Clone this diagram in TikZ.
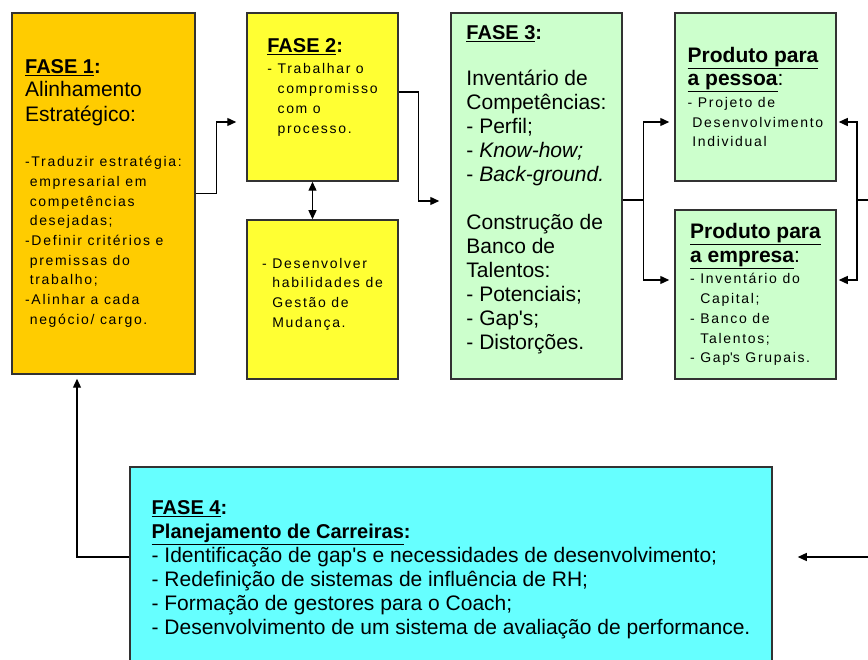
\documentclass[tikz,border=0pt]{standalone}
\usepackage{fontspec}
\setmainfont{Liberation Sans}
\newfontfamily\spacedfont[LetterSpace=12]{Liberation Sans}
\usepackage{xcolor}
\definecolor{faseorange}{RGB}{255,204,0}
\definecolor{faseyellow}{RGB}{255,255,51}
\definecolor{fasegreen}{RGB}{204,255,204}
\definecolor{fasecyan}{RGB}{102,255,255}
\definecolor{boxline}{RGB}{50,50,50}
\usepackage{tikz}
\usetikzlibrary{arrows.meta}
\tikzstyle{fase} = [rectangle, draw=boxline, line width=1.5pt,
  inner sep=0pt, align=left, font=\fontsize{21}{24}\selectfont]
\tikzstyle{smalltext} = [font=\spacedfont\fontsize{14}{19.7}\selectfont]
\newcommand{\fasehead}[1]{{\rmfamily\fontsize{20}{24}\selectfont\bfseries\underline{#1}:}}
\newcommand{\prodhead}[2]{{\rmfamily\fontsize{21}{24}\selectfont\bfseries\underline{#1}}\\[4pt]
  {\rmfamily\fontsize{21}{24}\selectfont{\bfseries\underline{#2}}:}}

\begin{document}
\begin{tikzpicture}[x=1pt, y=-1pt, line width=1.3pt,
    >={Triangle[length=9pt,width=8pt]}]
  \useasboundingbox (0,0) rectangle (868,660);
  \clip (0,0) rectangle (868,660);
  % fase 1
  \node[fase, smalltext, fill=faseorange, minimum width=183, minimum height=361]
    (f1) at (103.5,193.5) {\fasehead{FASE 1}\\[3pt]
    {\rmfamily\fontsize{21}{24}\selectfont Alinhamento}\\[5pt]
    {\rmfamily\fontsize{21}{24}\selectfont Estratégico:}\\[26pt]
    -Traduzir estratégia:\\ \phantom{-}empresarial em\\ \phantom{-}competências\\
    \phantom{-}desejadas;\\ -Definir critérios e\\ \phantom{-}premissas do\\
    \phantom{-}trabalho;\\ -Alinhar a cada\\ \phantom{-}negócio/ cargo.};
  % fase 2
  \node[fase, smalltext, fill=faseyellow, minimum width=151, minimum height=168]
    (f2a) at (322.5,97) {\fasehead{FASE 2}\\[2pt]
    - Trabalhar o\\ \phantom{- }compromisso\\ \phantom{- }com o\\
    \phantom{- }processo.\\[3pt]};
  \node[fase, smalltext, fill=faseyellow, minimum width=151, minimum height=159]
    (f2b) at (322.5,299.5) {- Desenvolver\\ \phantom{- }habilidades de\\
    \phantom{- }Gestão de\\ \phantom{- }Mudança.\\[-6pt]};
  % fase 3
  \node[fase, fill=fasegreen, minimum width=171, minimum height=366]
    (f3) at (536.5,196) {\fasehead{FASE 3}\\[22pt]
    Inventário de\\ Competências:\\ - Perfil;\\ - \textit{Know-how;}\\
    - \textit{Back-ground.}\\[24pt]
    Construção de\\ Banco de\\ Talentos:\\ - Potenciais;\\
    - Gap\textquotesingle s;\\ - Distorções.\\[-8pt]};
  % produtos
  \node[fase, smalltext, fill=fasegreen, minimum width=161, minimum height=168]
    (pp) at (755.5,97) {\prodhead{Produto para}{a pessoa}\\[2pt]
    - Projeto de\\ \phantom{-}Desenvolvimento\\ \phantom{-}Individual};
  \node[fase, smalltext, fill=fasegreen, minimum width=161, minimum height=169]
    (pe) at (755.5,294.5) {\prodhead{Produto para}{a empresa}\\[2pt]
    - Inventário do\\ \phantom{- }Capital;\\ - Banco de\\
    \phantom{- }Talentos;\\ - Gap\textquotesingle s Grupais.};
  % fase 4
  \node[fase, fill=fasecyan, minimum width=642, minimum height=206]
    (f4) at (451,570) {\fasehead{FASE 4}\\
    {\bfseries\fontsize{20}{24}\selectfont\underline{Planejamento de Carreiras}:}\\
    - Identificação de gap\textquotesingle s e necessidades de desenvolvimento;\\
    - Redefinição de sistemas de influência de RH;\\
    - Formação de gestores para o Coach;\\
    - Desenvolvimento de um sistema de avaliação de performance.};

  \coordinate (j3) at ([shift={(21pt,-4pt)}]f3.east);
  \coordinate (rtop) at (880,200);
  \coordinate (j4) at (857,200);
  \coordinate (rbot) at (880,557);

  \path[draw,->,shorten >=10pt] (f1.east) -- ++(21,0) |- ([yshift=-25pt]f2a.west);
  \path[draw,->,shorten >=11pt] ([yshift=5pt]f2a.east) -- ++(20,0)
    |- ([yshift=-5pt]f3.west);
  \path[draw,<->] ([xshift=-10pt]f2a.south) -- ([xshift=-10pt]f2b.north);
  \path[draw] ([yshift=-4pt]f3.east) -- (j3);
  \path[draw,->,shorten >=5pt] (j3) |- ([yshift=-25pt]pp.west);
  \path[draw,->,shorten >=5pt] (j3) |- ([yshift=14.5pt]pe.west);
  \path[draw] (rtop) -- (j4);
  \path[draw,->,shorten >=2pt] (j4) |- ([yshift=-25pt]pp.east);
  \path[draw,->,shorten >=2pt] (j4) |- ([yshift=14.5pt]pe.east);
  \path[draw,->,shorten >=25pt] (rbot) -- (rbot -| f4.east);
  \path[draw,->,shorten >=4pt] (rbot -| f4.west) -| ([xshift=-26.5pt]f1.south);
\end{tikzpicture}
\end{document}
